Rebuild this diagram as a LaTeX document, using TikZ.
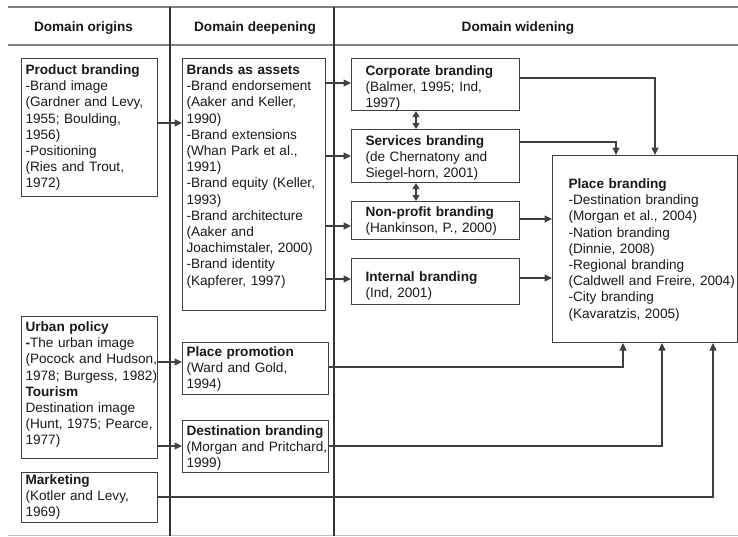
\documentclass[tikz,border=0pt]{standalone}
\usepackage{fontspec}
\setmainfont{Liberation Sans}
\usetikzlibrary{arrows.meta}
\newcommand{\boxfont}{\fontsize{13.6}{16.2}\selectfont}

\begin{document}
\begin{tikzpicture}[x=1pt, y=-1pt,
	box/.style={draw=black!75, line width=1.1pt, anchor=north west, inner sep=0pt,
		align=left, font=\boxfont, text=black!90, execute at begin node={\leftskip=#1}},
	box/.default=4pt,
	head/.style={anchor=base, font=\boxfont\bfseries, text=black!90},
	conn/.style={draw=black!75, line width=1.1pt, -{Triangle[length=7.5pt,width=7pt]}},
	dblarr/.style={conn, {Triangle[length=6pt,width=7pt]}-{Triangle[length=6pt,width=7pt]}},
	hrule/.style={line width=2.6pt, draw=black!50},
	colline/.style={line width=1.3pt, draw=black!80}]

	\useasboundingbox (0,0) rectangle (738,536);

	% table frame
	\draw[hrule] (8,7) -- (738,7);
	\draw[hrule] (8,45) -- (738,45);
	\draw[line width=1pt, draw=black!25] (8,535) -- (738,535);
	\draw[colline] (170,7) -- (170,536);
	\draw[colline] (334,7) -- (334,536);

	\node[head] (hOrig) at (83.5,31) {Domain origins};
	\node[head] (hDeep) at (255,31) {Domain deepening};
	\node[head] (hWide) at (518,31) {Domain widening};

	% domain origins
	\node[box, text width=136pt, text height=16pt, text depth=122pt] (prod) at (21,58)
		{\textbf{Product branding}\\-Brand image\\(Gardner and Levy,\\1955; Boulding,\\1956)\\-Positioning\\(Ries and Trout,\\1972)};
	\node[box, text width=136pt, text height=15pt, text depth=127pt] (urban) at (21,316)
		{\textbf{Urban policy}\\\textbf{-}The urban image\\(Pocock and Hudson,\\1978; Burgess, 1982)\\\textbf{Tourism}\\Destination image\\(Hunt, 1975; Pearce,\\1977)};
	\node[box, text width=136pt, text height=12pt, text depth=38pt] (mkt) at (21,472)
		{\textbf{Marketing}\\(Kotler and Levy,\\1969)};

	% domain deepening
	\node[box, text width=143pt, text height=16pt, text depth=236pt] (brand) at (182,58)
		{\textbf{Brands as assets}\\-Brand endorsement\\(Aaker and Keller,\\1990)\\-Brand extensions\\(Whan Park et al.,\\1991)\\-Brand equity (Keller,\\1993)\\-Brand architecture\\(Aaker and\\Joachimstaler, 2000)\\-Brand identity\\(Kapferer, 1997)};
	\node[box, text width=146pt, text height=14pt, text depth=38pt] (pp) at (182,342)
		{\textbf{Place promotion}\\(Ward and Gold,\\1994)};
	\node[box, text width=146pt, text height=15pt, text depth=37pt] (dest) at (182,420)
		{\textbf{Destination branding}\\(Morgan and Pritchard,\\1999)};

	% domain widening
	\node[box=14pt, text width=168pt, text height=16.5pt, text depth=35.5pt] (corp) at (351,58)
		{\textbf{Corporate branding}\\(Balmer, 1995; Ind,\\1997)};
	\node[box=14pt, text width=168pt, text height=16pt, text depth=37pt] (serv) at (351,129)
		{\textbf{Services branding}\\(de Chernatony and\\Siegel-horn, 2001)};
	\node[box=14pt, text width=168pt, text height=15pt, text depth=23pt] (np) at (351,201)
		{\textbf{Non-profit branding}\\(Hankinson, P., 2000)};
	\node[box=14pt, text width=168pt, text height=22.5pt, text depth=23.5pt] (int) at (351,258)
		{\textbf{Internal branding}\\(Ind, 2001)};
	\node[box=16pt, text width=184.5pt, text height=33pt, text depth=154pt] (place) at (552,155)
		{\textbf{Place branding}\\-Destination branding\\(Morgan et al., 2004)\\-Nation branding\\(Dinnie, 2008)\\-Regional branding\\(Caldwell and Freire, 2004)\\-City branding\\(Kavaratzis, 2005)};

	% arrows
	\draw[conn] (prod.east |- 0,123) -- (brand.west |- 0,123);
	\draw[conn] (urban.east |- 0,362) -- (pp.west |- 0,362);
	\draw[conn] (urban.east |- 0,446) -- (dest.west |- 0,446);
	\draw[conn] (brand.east |- 0,83) -- (corp.west |- 0,83);
	\draw[conn] (brand.east |- 0,156) -- (serv.west |- 0,156);
	\draw[conn] (brand.east |- 0,226) -- (np.west |- 0,226);
	\draw[conn] (brand.east |- 0,279) -- (int.west |- 0,279);
	\draw[dblarr] (corp.south -| 416,0) -- (serv.north -| 416,0);
	\draw[dblarr] (serv.south -| 416,0) -- (np.north -| 416,0);
	\draw[conn] (corp.east |- 0,78) -| (place.north -| 655,0);
	\draw[conn] (serv.east |- 0,142) -| (place.north -| 616,0);
	\draw[conn] (np.east |- 0,219) -- (place.west |- 0,219);
	\draw[conn] (int.east |- 0,278) -- (place.west |- 0,278);
	\draw[conn] (pp.east |- 0,367) -| (place.south -| 623,0);
	\draw[conn] (dest.east |- 0,446) -| (place.south -| 662,0);
	\draw[conn] (mkt.east |- 0,497) -| (place.south -| 713,0);
\end{tikzpicture}
\end{document}
